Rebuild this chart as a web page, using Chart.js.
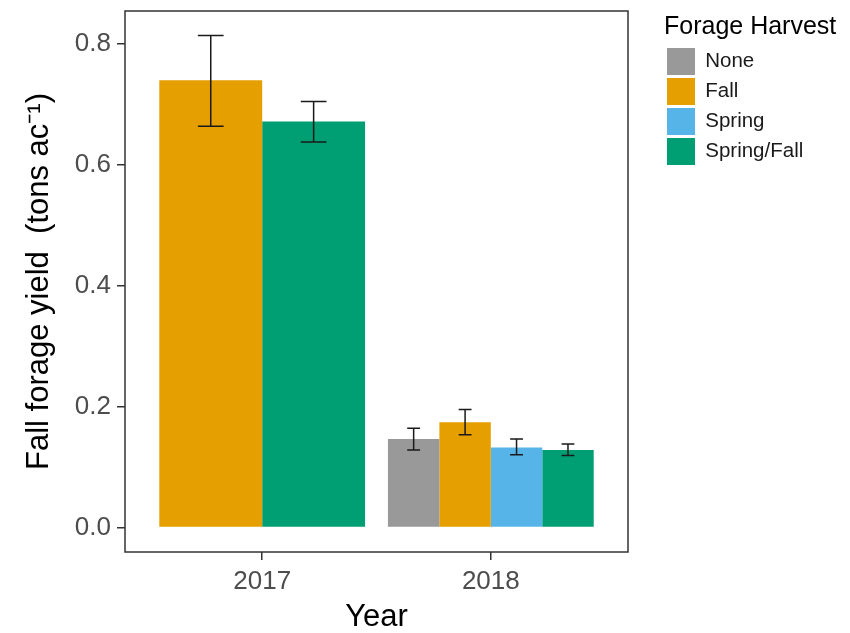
<!DOCTYPE html>
<html>
<head>
<meta charset="utf-8">
<title>Fall forage yield</title>
<script src="https://cdn.jsdelivr.net/npm/chart.js@4.4.1/dist/chart.umd.min.js"></script>
<style>
  html, body { margin: 0; padding: 0; background: #ffffff; }
  #wrap { width: 850px; height: 633px; }
  canvas { display: block; }
</style>
</head>
<body>
<div id="wrap"><canvas id="chart" width="850" height="633"></canvas></div>
<script>
// Years on the x axis and the harvest treatments shown in the legend
const years = ['2017', '2018'];
const harvestTypes = ['None', 'Fall', 'Spring', 'Spring/Fall'];

// Mean fall forage yield (tons/ac) per year; null = treatment not present that year
const noneYield = [null, 0.146];
const fallYield = [0.739, 0.174];
const springYield = [null, 0.132];
const springFallYield = [0.671, 0.128];

// Lower / upper ends of the error bars
const noneLow = [null, 0.128];
const noneHigh = [null, 0.164];
const fallLow = [0.663, 0.153];
const fallHigh = [0.813, 0.195];
const springLow = [null, 0.120];
const springHigh = [null, 0.146];
const springFallLow = [0.637, 0.119];
const springFallHigh = [0.704, 0.138];

// Y axis tick values
const yTicks = [0, 0.2, 0.4, 0.6, 0.8];

const FONT = "'Liberation Sans', Arial, Helvetica, sans-serif";
const colors = ['#999999', '#E69F00', '#56B4E9', '#009E73'];

const seriesValues = [noneYield, fallYield, springYield, springFallYield];
const seriesLow = [noneLow, fallLow, springLow, springFallLow];
const seriesHigh = [noneHigh, fallHigh, springHigh, springFallHigh];

// y range padded by 5% of the data span, like ggplot's default expansion
const allHigh = seriesHigh.flat().filter(v => v != null);
const yTop = Math.max(...allHigh);
const yPad = yTop * 0.05;

const datasets = harvestTypes.map((name, k) => ({
  label: name,
  data: seriesValues[k].map((v, i) => ({ x: i + 1, y: v })),
  errLow: seriesLow[k],
  errHigh: seriesHigh[k],
  backgroundColor: colors[k],
  borderWidth: 0,
  xAxisID: 'x',
  yAxisID: 'y'
}));

// Error bars drawn from each bar's position and the y scale
const errorBars = {
  id: 'errorBars',
  afterDatasetsDraw(chart) {
    const ctx = chart.ctx;
    const yScale = chart.scales.y;
    ctx.save();
    ctx.strokeStyle = '#1a1a1a';
    ctx.lineWidth = 1.5;
    chart.data.datasets.forEach((ds, di) => {
      const meta = chart.getDatasetMeta(di);
      meta.data.forEach((bar, i) => {
        const lo = ds.errLow[i], hi = ds.errHigh[i];
        if (lo == null || hi == null) return;
        const x = bar.x;
        const half = bar.width * 0.125;
        const yl = yScale.getPixelForValue(lo);
        const yh = yScale.getPixelForValue(hi);
        ctx.beginPath();
        ctx.moveTo(x, yh); ctx.lineTo(x, yl);
        ctx.moveTo(x - half, yh); ctx.lineTo(x + half, yh);
        ctx.moveTo(x - half, yl); ctx.lineTo(x + half, yl);
        ctx.stroke();
      });
    });
    ctx.restore();
  }
};

// Dark border around the plotting panel
const panelBorder = {
  id: 'panelBorder',
  afterDraw(chart) {
    const a = chart.chartArea;
    const ctx = chart.ctx;
    ctx.save();
    ctx.strokeStyle = '#333333';
    ctx.lineWidth = 1.5;
    ctx.strokeRect(a.left, a.top, a.right - a.left, a.bottom - a.top);
    ctx.restore();
  }
};

// Fixed legend column width on the right
const legendWidth = {
  id: 'legendWidth',
  beforeUpdate(chart) {
    const lg = chart.legend;
    if (lg && !lg._fixedWidth) {
      const fit = lg.fit.bind(lg);
      lg.fit = function () { fit(); this.width = 186; };
      lg._fixedWidth = true;
    }
  }
};

new Chart(document.getElementById('chart'), {
  type: 'bar',
  data: { datasets },
  plugins: [legendWidth, errorBars, panelBorder],
  options: {
    responsive: false,
    animation: false,
    devicePixelRatio: 1,
    layout: { padding: { top: 11, left: 0, right: 0, bottom: 0 } },
    datasets: {
      bar: { grouped: true, skipNull: true, categoryPercentage: 0.9, barPercentage: 1 }
    },
    scales: {
      x: {
        type: 'linear',
        position: 'bottom',
        min: 0.4,
        max: 2.6,
        offset: false,
        afterBuildTicks: s => { s.ticks = years.map((_, i) => ({ value: i + 1 })); },
        afterFit: s => { s.height = 81; s.paddingLeft = 0; s.paddingRight = 0; },
        ticks: {
          autoSkip: false,
          maxRotation: 0,
          padding: 6,
          color: '#4d4d4d',
          font: { family: FONT, size: 26 },
          callback: v => years[v - 1] ?? ''
        },
        grid: { display: true, offset: false, drawOnChartArea: false, drawTicks: true, tickLength: 8, color: '#333333', lineWidth: 1.5 },
        border: { display: false },
        title: {
          display: true,
          text: 'Year',
          color: '#000000',
          font: { family: FONT, size: 31, lineHeight: 1 },
          padding: { top: 0, bottom: 0 }
        }
      },
      y: {
        type: 'linear',
        position: 'left',
        min: -yPad,
        max: yTop + yPad,
        afterBuildTicks: s => { s.ticks = yTicks.map(v => ({ value: v })); },
        afterFit: s => { s.width = 125; s.paddingTop = 0; s.paddingBottom = 0; },
        ticks: {
          padding: 6,
          color: '#4d4d4d',
          font: { family: FONT, size: 26 },
          callback: v => Number(v).toFixed(1)
        },
        grid: { display: true, drawOnChartArea: false, drawTicks: true, tickLength: 8, color: '#333333', lineWidth: 1.5 },
        border: { display: false },
        title: {
          display: true,
          text: 'Fall forage yield  (tons ac\u207B\u00B9)',
          color: '#000000',
          font: { family: FONT, size: 31 },
          padding: { top: 21, bottom: 0 }
        }
      },
      gap: {
        type: 'linear',
        position: 'right',
        display: true,
        grid: { display: false },
        border: { display: false },
        ticks: { display: false },
        afterFit: s => { s.width = 36; }
      }
    },
    plugins: {
      tooltip: { enabled: false },
      legend: {
        position: 'right',
        align: 'start',
        title: {
          display: true,
          text: 'Forage Harvest',
          position: 'start',
          color: '#000000',
          font: { family: FONT, size: 25 },
          padding: { top: 4, bottom: 0 }
        },
        labels: {
          boxWidth: 28,
          boxHeight: 27,
          padding: 3,
          color: '#1a1a1a',
          font: { family: FONT, size: 20.5 }
        }
      }
    }
  }
});
</script>
</body>
</html>
